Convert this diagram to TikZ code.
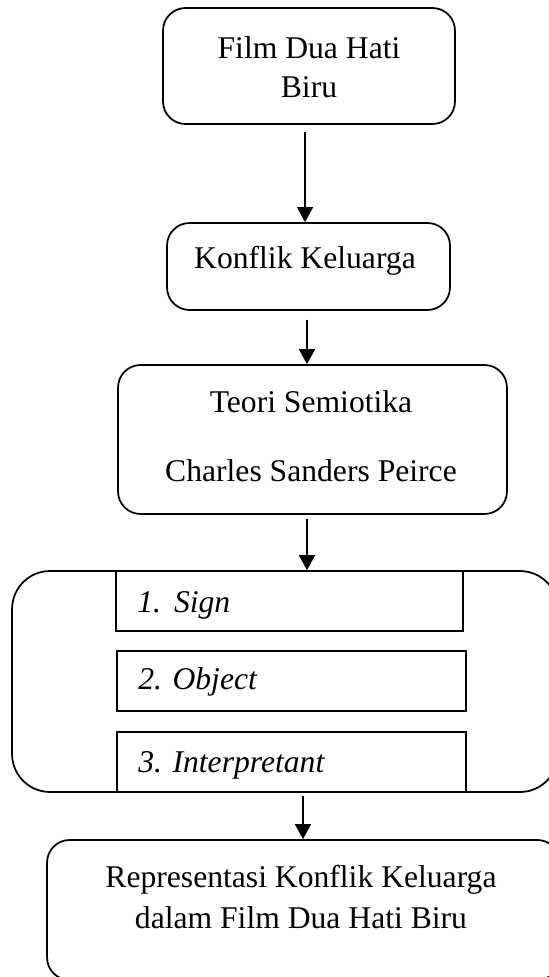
\documentclass[tikz,border=0pt]{standalone}
\usepackage{fontspec}
\setmainfont{Liberation Serif}
\usetikzlibrary{arrows.meta}

\tikzset{
  teks/.style={font=\fontsize{18}{22.5}\selectfont},
  miring/.style={font=\fontsize{18}{22.5}\selectfont\itshape},
  kotak/.style={draw, line width=1pt, rounded corners=0.45cm, inner sep=0pt},
  isian/.style={draw, line width=1pt, inner sep=0pt, minimum width=6.98cm, minimum height=1.2cm},
  panah/.style={-{Triangle[length=0.3cm,width=0.32cm]}, line width=1pt}
}

\begin{document}
\begin{tikzpicture}[x=0.02cm, y=-0.02cm]
  \useasboundingbox (0,0) rectangle (548,977);

  % Kotak utama
  \node[kotak, minimum width=5.84cm, minimum height=2.32cm] (film) at (309,66) {};
  \node[kotak, minimum width=5.66cm, minimum height=1.74cm] (konflik) at (308.5,266.5) {};
  \node[kotak, minimum width=7.78cm, minimum height=2.98cm] (teori) at (312.5,439.5) {};
  \node[kotak, rounded corners=0.76cm, minimum width=10.92cm, minimum height=4.42cm] (unsur) at (285,681.5) {};
  \node[kotak, minimum width=10.26cm, minimum height=2.8cm] (hasil) at (303.5,910) {};

  % Kotak di dalam
  \node[isian, minimum width=6.94cm] (sign) at (289.5,601) {};
  \node[isian] (object) at (291.5,681) {};
  \node[isian] (interp) at (291.5,762) {};

  % Teks (base = garis dasar baris terakhir)
  \node[teks, anchor=base, align=center] (tfilm) at (309,97) {Film Dua Hati\\[-0.4pt]Biru};
  \node[teks, anchor=base] (tkonflik) at (305,268) {Konflik Keluarga};
  \node[teks, anchor=base, align=center] (tteori) at (311,481) {Teori Semiotika\\[16.6pt]Charles Sanders Peirce};
  \node[miring, anchor=base west, inner sep=0pt] (tsign) at (137,612) {1.\hspace{7.4pt}Sign};
  \node[miring, anchor=base west, inner sep=0pt] (tobject) at (138,689) {2. Object};
  \node[miring, anchor=base west, inner sep=0pt] (tinterp) at (138,772) {3. Interpretant};
  \node[teks, anchor=base, align=center] (thasil) at (301,928) {Representasi Konflik Keluarga\\[0.7pt]dalam Film Dua Hati Biru};

  % Panah
  \draw[panah] ([xshift=-0.08cm,yshift=-0.14cm]film.south) -- ([xshift=-0.08cm]film.south |- konflik.north);
  \draw[panah] ([xshift=-0.03cm,yshift=-0.18cm]konflik.south) -- ([xshift=-0.03cm]konflik.south |- teori.north);
  \draw[panah] ([xshift=-0.11cm,yshift=-0.08cm]teori.south) -- ([xshift=-0.11cm]teori.south |- unsur.north);
  \draw[panah] ([xshift=0.36cm,yshift=-0.06cm]unsur.south) -- ([xshift=0.36cm]unsur.south |- hasil.north);
\end{tikzpicture}
\end{document}
